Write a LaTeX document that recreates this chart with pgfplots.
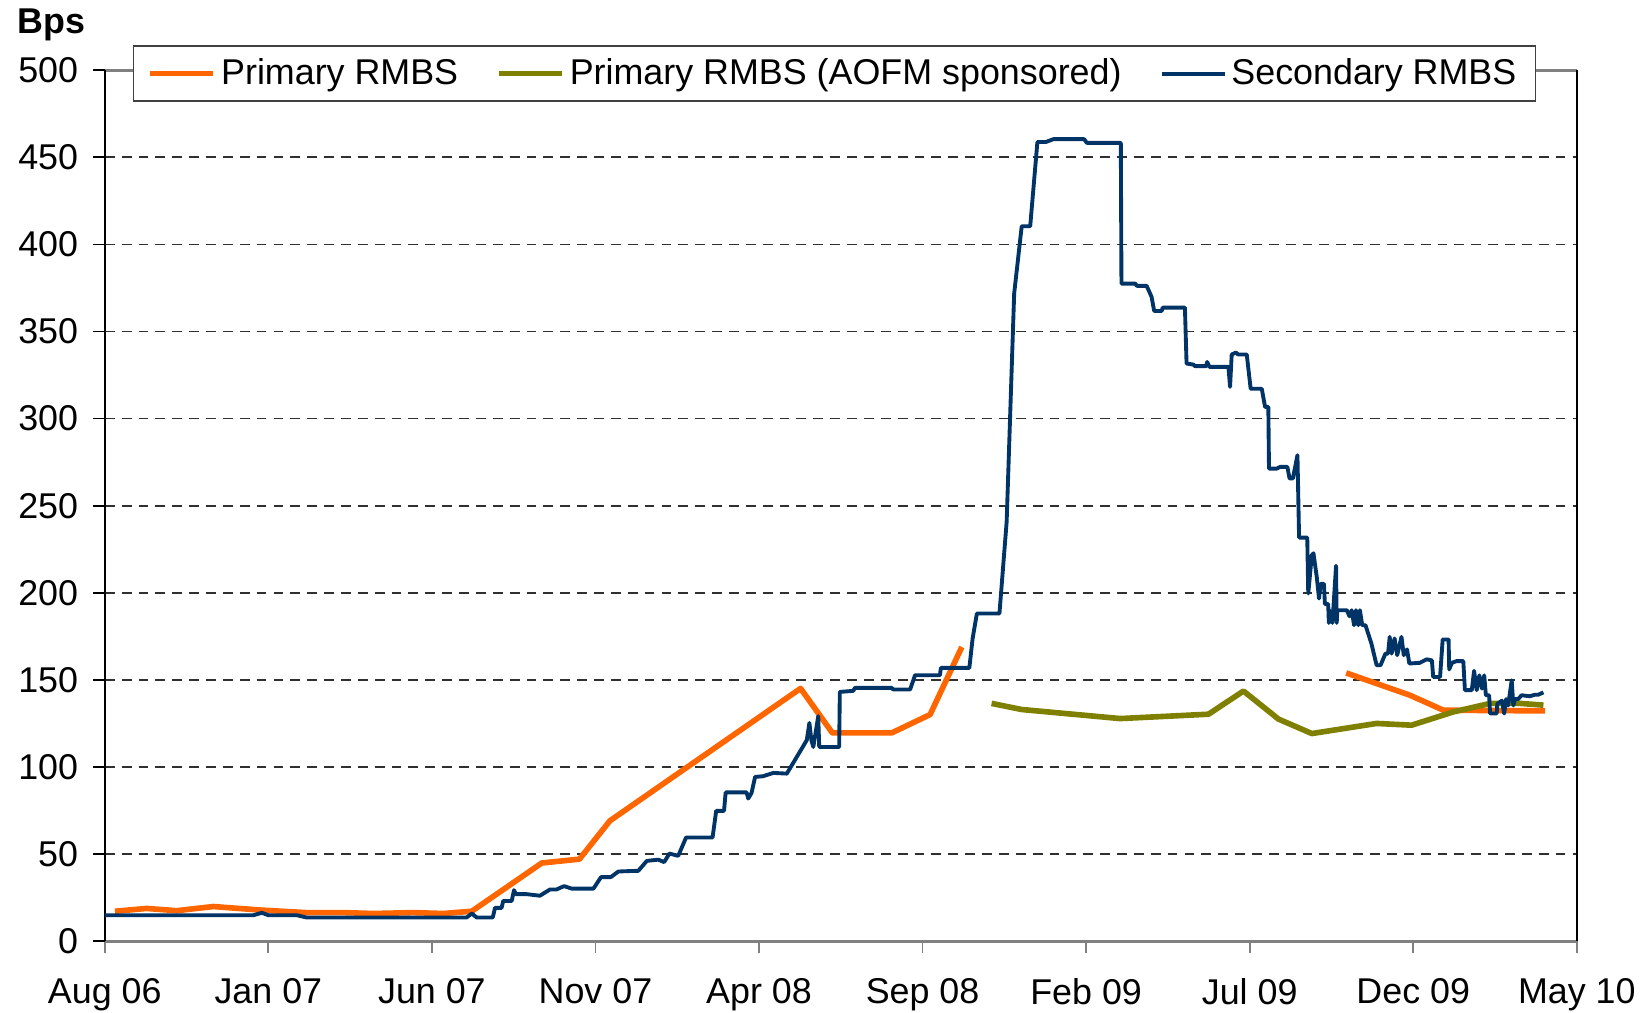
\documentclass[border=0pt]{standalone}
\usepackage{fontspec}
\setmainfont{Liberation Sans}
\usepackage{pgfplots}
\pgfplotsset{compat=1.18}
\definecolor{cOrange}{HTML}{FF6600}
\definecolor{cOlive}{HTML}{808000}
\definecolor{cNavy}{HTML}{003366}
\definecolor{cGrid}{HTML}{303030}
\begin{document}
\begin{tikzpicture}[font=\fontsize{10.2}{12}\selectfont]
\begin{axis}[
  scale only axis, width=147.2mm, height=87.1mm,
  xmin=0, xmax=45, ymin=0, ymax=500,
  xtick={0,5,...,45},
  xticklabels={Aug 06, Jan 07, Jun 07, Nov 07, Apr 08, Sep 08, Feb 09, Jul 09, Dec 09, May 10},
  ytick={0,50,...,500},
  /pgf/number format/assume math mode=true,
  tick pos=left, tick align=outside, major tick length=1.2mm,
  xtick style={draw=gray, line width=0.5pt},
  ytick style={draw=black, line width=0.5pt},
  separate axis lines,
  x axis line style={draw=gray, line width=0.9pt},
  y axis line style={draw=black, line width=0.5pt},
  ymajorgrids,
  grid style={draw=cGrid, line width=0.5pt, dash pattern=on 2.8pt off 2pt},
  xticklabel style={anchor=north, inner sep=0pt, yshift=-2.5mm},
  yticklabel style={anchor=east, inner sep=0pt, xshift=-1.4mm},
  unbounded coords=jump,
  legend columns=3,
  legend cell align=left,
  legend image code/.code={\draw[#1] (1.2mm,0mm) -- (7.5mm,0mm);},
  legend style={at={(0.4957,0.996)}, anchor=center, fill=white,
    draw=black!75, line width=0.5pt, inner xsep=1.4mm, inner ysep=0.6mm,
    nodes={inner xsep=0.5mm, inner ysep=0.6mm},
    /tikz/every even column/.append style={column sep=3.3mm},
    font=\fontsize{10.2}{12}\selectfont},
]
\addplot[cOrange, line width=1.6pt, line join=round] coordinates {
(0.31,17.2) (1.28,18.8) (2.2,17.5) (3.32,19.9) (4.74,17.9) (6.17,16.4)
(7.29,16.4) (8.21,15.9) (9.43,16.4) (10.35,15.9) (11.22,17.2) (13.36,44.9)
(14.51,47.1) (15.44,69.1) (21.27,145.1) (22.24,119.6) (24.06,119.6)
(25.23,130.1) (26.2,168.9) (32,nan)
(37.95,154) (39.9,141.2) (40.92,132.6) (44.03,132.2)
};
\addlegendentry{Primary RMBS}
\addplot[cOlive, line width=1.6pt, line join=round] coordinates {
(27.11,136.5) (28.03,133) (31.04,127.8) (33.74,130.3) (34.81,143.6)
(35.88,127.5) (36.9,119.2) (38.88,125) (39.95,124) (41.22,131.6)
(42.35,136.5) (43.27,136.5) (43.98,135.5)
};
\addlegendentry{Primary RMBS (AOFM sponsored)}
\addplot[cNavy, line width=1.1pt, line join=round] coordinates {
(0,14.9) (4.54,14.9) (4.8,16.3) (5.0,14.9) (5.87,14.9) (6.17,13.6)
(11.06,13.6) (11.22,15.9) (11.37,13.6) (11.86,13.6) (11.93,19.1) (12.13,19.1)
(12.18,23.1) (12.44,23.1) (12.51,29.3) (12.57,27) (12.9,27) (13.3,26.1)
(13.61,29.7) (13.81,29.7) (14.04,31.6) (14.27,30.2) (14.94,30.2) (15.17,36.8)
(15.47,36.8) (15.7,40) (16.11,40.3) (16.31,40.4) (16.57,46.1) (16.92,46.8)
(17.1,45.4) (17.26,50.3) (17.53,49) (17.77,59.5) (18.58,59.5) (18.69,74.8)
(18.93,74.8) (18.98,85.4) (19.62,85.4) (19.67,81.9) (19.77,85) (19.88,94.3)
(20.12,94.7) (20.44,96.6) (20.85,96.2) (21.46,115.4) (21.54,125.3) (21.6,115.4)
(21.66,111.5) (21.81,129.2) (21.84,111.5) (22.45,111.5) (22.47,143.1) (22.88,143.7)
(22.93,145.4) (24.06,145.4) (24.1,144.5) (24.62,144.5) (24.77,152.7) (25.53,152.7)
(25.56,156.9) (26.43,156.9) (26.53,173.8) (26.66,188.1) (27.35,188.1) (27.57,240.7)
(27.8,371.8) (28.03,410.4) (28.29,410.4) (28.51,458.8) (28.77,458.8) (29.0,460.4)
(29.94,460.4) (30.02,458.3) (31.06,458.3) (31.08,377.5) (31.5,377.5) (31.55,376.2)
(31.85,376.2) (32.0,369.9) (32.08,361.8) (32.31,361.8) (32.34,363.7) (33.02,363.7)
(33.07,331.6) (33.28,331) (33.33,330.1) (33.67,330.1) (33.7,332.5) (33.77,329.7)
(34.35,329.7) (34.4,318.2) (34.45,336.8) (34.58,337.9) (34.65,336.8) (34.91,336.8)
(35.03,317.1) (35.37,317.1) (35.47,306.7) (35.57,306.7) (35.59,271.3) (35.83,271.3)
(35.93,272.3) (36.15,272.3) (36.22,265.6) (36.32,265.6) (36.46,279) (36.51,231.7)
(36.76,231.7) (36.79,199.6) (36.9,221.6) (36.95,222.7) (37.05,209.1) (37.12,196.7)
(37.17,205.1) (37.27,205.1) (37.3,193.5) (37.4,193.5) (37.42,182.7) (37.47,189.5)
(37.53,182.7) (37.64,215.5) (37.66,182.7) (37.68,190) (37.97,190) (38.05,186.5)
(38.12,190) (38.19,181.4) (38.25,190) (38.32,181.4) (38.37,190) (38.44,181.4)
(38.54,181.4) (38.72,170.9) (38.88,158.4) (39.0,158.4) (39.15,165.1) (39.23,165.1)
(39.28,174.7) (39.34,165.1) (39.43,173.8) (39.51,164.2) (39.64,174.7) (39.71,164.2)
(39.81,167.5) (39.88,159.4) (40.2,159.8) (40.41,161.8) (40.57,161.2) (40.61,151.7)
(40.82,151.7) (40.9,173.2) (41.08,173.2) (41.1,156) (41.18,159.8) (41.33,160.8)
(41.53,160.8) (41.58,144.1) (41.79,144.1) (41.86,155.2) (41.94,144.1) (42.02,152.6)
(42.1,145) (42.17,152.6) (42.22,141.2) (42.32,141.2) (42.35,130.7) (42.55,130.7)
(42.57,136.2) (42.71,138.1) (42.78,130.7) (42.84,139) (42.9,135.3) (43.01,149.8)
(43.06,135.3) (43.11,139) (43.21,139) (43.31,141.2) (43.56,140.6) (43.72,141.5)
(43.82,141.5) (43.98,142.8)
};
\addlegendentry{Secondary RMBS}
\end{axis}
\node[anchor=base west, inner sep=0pt, font=\fontsize{10.2}{12}\selectfont\bfseries] at (-8.8mm,90.8mm) {Bps};
\pgfresetboundingbox
\useasboundingbox (-10.48mm,-7.1mm) rectangle (153.82mm,94.12mm);
\end{tikzpicture}
\end{document}
